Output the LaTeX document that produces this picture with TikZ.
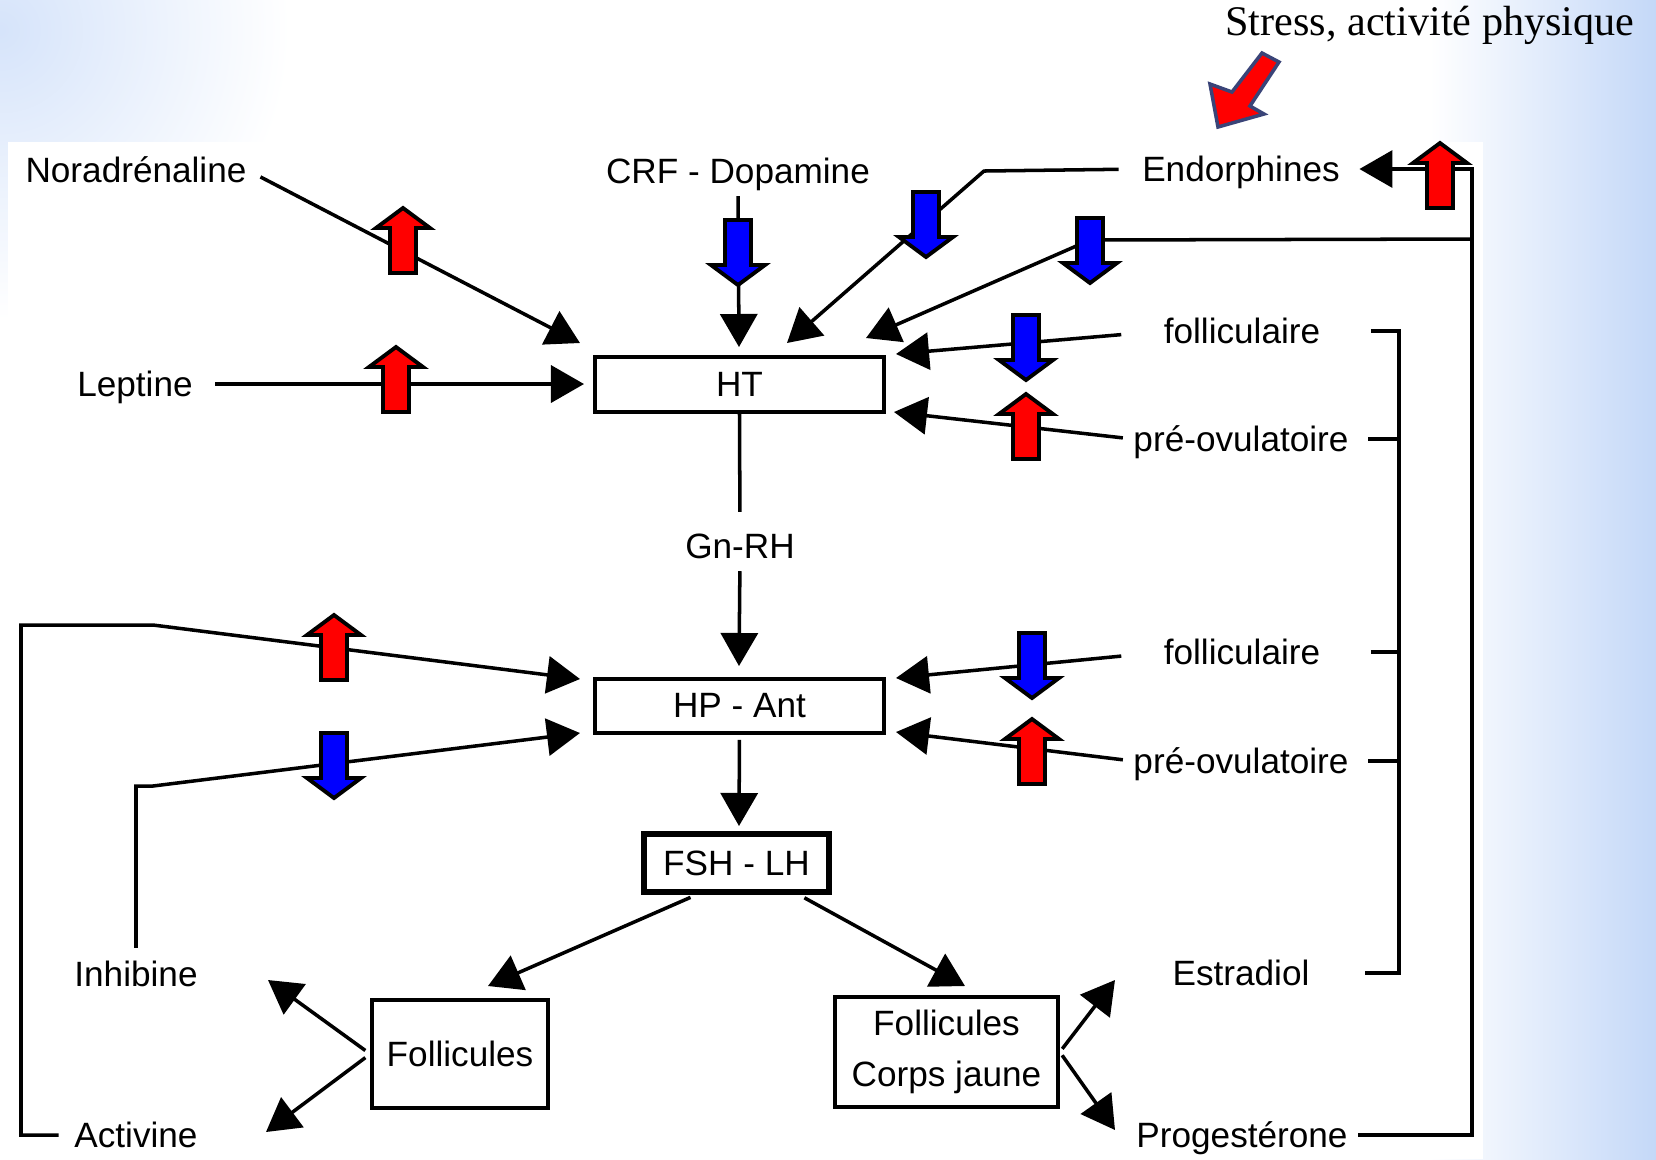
\documentclass[tikz,border=0pt]{standalone}
\usepackage{fontspec}
\setmainfont{Liberation Sans}
\newfontfamily\timesfont{Liberation Serif}
\usetikzlibrary{arrows.meta}

\definecolor{bgblue}{RGB}{196,216,248}
\definecolor{slateblue}{RGB}{58,68,120}

\begin{document}
\begin{tikzpicture}%
        [x=0.01cm, y=-0.01cm,
        wire/.style={line width=1pt},
        link/.style={line width=1pt, -{Triangle[length=0.33cm,width=0.37cm]}},
        hormone/.style={inner sep=0pt, text height=0.25cm, text depth=0pt, font=\fontsize{10pt}{12pt}\selectfont},
        box/.style={draw, line width=1pt, inner sep=0pt, font=\fontsize{10pt}{12pt}\selectfont},
        fatArrow/.style={line width=1.1pt, draw=black},
        rise/.pic={\filldraw[fatArrow, fill=red] (-13,32) -- (-13,-13) -- (-27,-13) -- (0,-33) -- (27,-13) -- (13,-13) -- (13,32) -- cycle;},
        fall/.pic={\filldraw[fatArrow, fill=blue] (-13,-32) -- (-13,13) -- (-27,13) -- (0,33) -- (27,13) -- (13,13) -- (13,-32) -- cycle;}]
%
%% Background of the slide
%%
\useasboundingbox (0,0) rectangle (1656,1159);
\fill[white] (0,0) rectangle (1656,1159);
\shade[left color=white, right color=bgblue] (1430,0) rectangle (1656,1159);
\begin{scope}
\clip (0,0) rectangle (1656,1159);
\shade[inner color=bgblue!70, outer color=white] (0,30) circle (290);
\end{scope}
\fill[white] (8,142) rectangle (1483,1159);
%
%% Labels and boxes
%%
\node[inner sep=0pt, text height=0.28cm, text depth=0pt, font=\timesfont\fontsize{12pt}{14pt}\selectfont] (stress) at (1430,21) {Stress, activité physique};

\node[hormone] (nor) at (136,170) {Noradrénaline};
\node[hormone] (crf) at (738,171) {CRF - Dopamine};
\node[hormone] (endo) at (1241,169) {Endorphines};
\node[hormone] (lep) at (135,384) {Leptine};
\node[hormone] (fol1) at (1242,331) {folliculaire};
\node[hormone] (pre1) at (1241,439) {pré-ovulatoire};
\node[hormone] (gnrh) at (740,546) {Gn-RH};
\node[hormone] (fol2) at (1242,652) {folliculaire};
\node[hormone] (pre2) at (1241,761) {pré-ovulatoire};
\node[hormone] (inh) at (136,974) {Inhibine};
\node[hormone] (act) at (136,1135) {Activine};
\node[hormone] (estr) at (1241,973) {Estradiol};
\node[hormone] (prog) at (1242,1135) {Progestérone};

\node[box, minimum width=2.89cm, minimum height=0.55cm] (ht) at (739.5,384.5) {HT};
\node[box, minimum width=2.89cm, minimum height=0.54cm] (hp) at (739.5,706) {HP - Ant};
\node[box, line width=1.9pt, minimum width=1.85cm, minimum height=0.58cm] (fsh) at (736.5,863) {FSH - LH};
\node[box, minimum width=1.76cm, minimum height=1.08cm] (foll) at (460,1054) {Follicules};
\node[box, align=center, minimum width=2.23cm, minimum height=1.10cm] (fcj) at (946.5,1052) {Follicules\\[2.7pt]Corps jaune};
%
%% Bends and arrow ends
%%
\coordinate (t nor) at (580,343);
\coordinate (t lep) at (584,384);
\coordinate (t crf) at (739,347);
\coordinate (k endo) at (984,171);
\coordinate (t endo) at (787,343);
\coordinate (r top) at (1472,169);
\coordinate (r mid) at (1472,239);
\coordinate (k loop) at (1090,240);
\coordinate (t loop) at (866,338);
\coordinate (t fol1) at (896,354);
\coordinate (t pre1) at (894,412);
\coordinate (t gnrh) at (739,666);
\coordinate (l top) at (21,625);
\coordinate (k act) at (153,625);
\coordinate (t act) at (580,679);
\coordinate (k inh) at (153,786);
\coordinate (t inh) at (580,733);
\coordinate (t fol2) at (896,678);
\coordinate (t pre2) at (896,732);
\coordinate (t fsh) at (739,826);
\coordinate (t foll) at (488,986);
\coordinate (t fcj) at (965,986);
\coordinate (t inhb) at (268,980);
\coordinate (t actv) at (266,1132);
\coordinate (t estr) at (1115,980);
\coordinate (t prog) at (1115,1130);
\coordinate (e bar) at (1399,331);
%
%% Connectors
%%
\draw[link, shorten <=0.15cm] (nor.east) -- (t nor);
\draw[link, shorten <=0.22cm] (lep.east) -- (t lep);
\draw[link, shorten <=0.12cm] (crf.south) -- (t crf);
\draw[link, shorten <=0.23cm] (endo.west) -- (k endo) -- (t endo);
\draw[link, shorten <=0.1cm, shorten >=0.19cm] (prog.east) -| (r top) -- (endo.east);
\draw[link] (r mid) -- (k loop) -- (t loop);
\draw[link, shorten <=0.42cm] (fol1.west) -- (t fol1);
\draw[link, shorten <=0.1cm] (pre1.west) -- (t pre1);

\draw[wire, shorten >=0.21cm] (ht.south) -- (gnrh.north);
\draw[link, shorten <=0.12cm] (gnrh.south) -- (t gnrh);

\draw[link, shorten <=0.15cm] (act.west) -| (l top) -- (k act) -- (t act);
\draw[link, shorten <=0.13cm] (inh.north) |- (k inh) -- (t inh);
\draw[link, shorten <=0.42cm] (fol2.west) -- (t fol2);
\draw[link, shorten <=0.1cm] (pre2.west) -- (t pre2);

\draw[link, shorten <=0.05cm] (hp.south) -- (t fsh);
\draw[link, shorten <=0.05cm] (fsh.-142) -- (t foll);
\draw[link, shorten <=0.05cm] (fsh.-27) -- (t fcj);
\draw[link, shorten <=0.06cm] (foll.west) -- (t inhb);
\draw[link, shorten <=0.06cm] (foll.west) -- (t actv);
\draw[link, shorten <=0.04cm] (fcj.east) -- (t estr);
\draw[link, shorten <=0.04cm] (fcj.east) -- (t prog);

\draw[wire, shorten <=0.5cm, shorten >=0.55cm] (fol1.east) -- (fol1.east -| e bar) -- (estr.east -| e bar) -- (estr.east);
\draw[wire, shorten <=0.19cm] (pre1.east) -- (pre1.east -| e bar);
\draw[wire, shorten <=0.5cm] (fol2.east) -- (fol2.east -| e bar);
\draw[wire, shorten <=0.19cm] (pre2.east) -- (pre2.east -| e bar);
%
%% Rising and falling levels
%%
\pic at (403,241) {rise};
\pic at (738,252) {fall};
\pic at (926,224) {fall};
\pic at (1090,250) {fall};
\pic at (1440,176) {rise};
\pic at (396,380) {rise};
\pic at (1026,347) {fall};
\pic at (1026,427) {rise};
\pic at (1032,665) {fall};
\pic at (1032,752) {rise};
\pic at (334,648) {rise};
\pic at (334,765) {fall};

\filldraw[draw=slateblue, fill=red, line width=1pt] (1218,127) -- (1264,114) -- (1250,106) -- (1279,62) -- (1262,53) -- (1232,92) -- (1210,84) -- cycle;

\end{tikzpicture}
\end{document}
